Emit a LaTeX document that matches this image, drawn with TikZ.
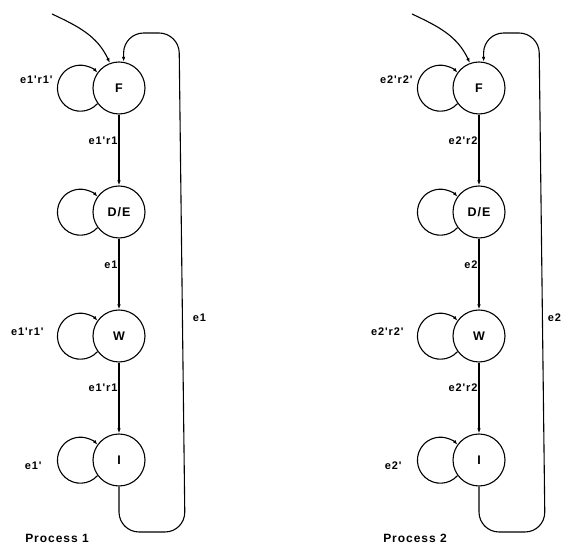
\documentclass[tikz,border=0pt]{standalone}
\usepackage{fontspec}
\newfontfamily\diagfont[LetterSpace=8]{Liberation Sans}
\usetikzlibrary{automata,positioning,arrows.meta}
\tikzset{
node distance=124pt, % centre to centre, states of one process
every state/.style={draw, line width=1.1pt, minimum size=52pt, inner sep=0pt,
  font=\diagfont\bfseries\fontsize{12.5}{12.5}\selectfont},
lbl/.style={font=\diagfont\bfseries\fontsize{11}{11}\selectfont, inner sep=1pt},
title/.style={font=\diagfont\bfseries\fontsize{12}{12}\selectfont, inner sep=0pt},
}

\begin{document}
\begin{tikzpicture}[on grid,auto,line width=1.1pt,>={Latex[length=5pt,width=3.5pt]}]
   \useasboundingbox (0,0) rectangle (563pt,546pt);
   % process 1
   \node[state] (f_1) at (119pt,458pt) {F};
   \node[state] (de_1) [below=of f_1] {D/E};
   \node[state] (w_1) [below=of de_1] {W};
   \node[state] (i_1) [below=of w_1] {I};
   \coordinate (start_1) at (52pt,532pt);
   \draw[->] (start_1) to[out=-25, in=115] (f_1.110);
   \path[->]
    (f_1) edge node[lbl, swap, pos=.37] {e1'r1} (de_1)
    (de_1) edge node[lbl, swap, pos=.37] {e1} (w_1)
    (w_1) edge node[lbl, swap, pos=.35] {e1'r1} (i_1);
   \draw[->] (f_1.216) arc[start angle=-42, end angle=-318, radius=23pt];
   \draw[->] (de_1.216) arc[start angle=-42, end angle=-318, radius=23pt];
   \draw[->] (w_1.216) arc[start angle=-42, end angle=-318, radius=23pt];
   \draw[->] (i_1.216) arc[start angle=-42, end angle=-318, radius=23pt];
   \node[lbl, anchor=east] (lf_1) at ([shift={(-65pt,8pt)}]f_1.center) {e1'r1'};
   \node[lbl, anchor=east] (lw_1) at ([shift={(-74pt,4pt)}]w_1.center) {e1'r1'};
   \node[lbl, anchor=east] (li_1) at ([shift={(-76pt,-6pt)}]i_1.center) {e1'};
   \draw[->, rounded corners=20pt] (i_1.south) -- (119pt,14pt) -- (185pt,14pt)
    -- node[lbl, swap, pos=.43, inner sep=10pt] {e1} (179pt,513pt)
    -- (f_1.80 |- 0,513pt) -- (f_1.80);
   \node[title, anchor=base] (p_1) at (57pt,3pt) {Process 1};

   % process 2
   \node[state] (f_2) at (479pt,458pt) {F};
   \node[state] (de_2) [below=of f_2] {D/E};
   \node[state] (w_2) [below=of de_2] {W};
   \node[state] (i_2) [below=of w_2] {I};
   \coordinate (start_2) at (412pt,532pt);
   \draw[->] (start_2) to[out=-25, in=115] (f_2.110);
   \path[->]
    (f_2) edge node[lbl, swap, pos=.37] {e2'r2} (de_2)
    (de_2) edge node[lbl, swap, pos=.37] {e2} (w_2)
    (w_2) edge node[lbl, swap, pos=.35] {e2'r2} (i_2);
   \draw[->] (f_2.216) arc[start angle=-42, end angle=-318, radius=23pt];
   \draw[->] (de_2.216) arc[start angle=-42, end angle=-318, radius=23pt];
   \draw[->] (w_2.216) arc[start angle=-42, end angle=-318, radius=23pt];
   \draw[->] (i_2.216) arc[start angle=-42, end angle=-318, radius=23pt];
   \node[lbl, anchor=east] (lf_2) at ([shift={(-65pt,8pt)}]f_2.center) {e2'r2'};
   \node[lbl, anchor=east] (lw_2) at ([shift={(-74pt,4pt)}]w_2.center) {e2'r2'};
   \node[lbl, anchor=east] (li_2) at ([shift={(-76pt,-6pt)}]i_2.center) {e2'};
   \draw[->, rounded corners=20pt] (i_2.south) -- (479pt,14pt) -- (545pt,14pt)
    -- node[lbl, swap, pos=.43, inner sep=5pt] {e2} (539pt,513pt)
    -- (f_2.80 |- 0,513pt) -- (f_2.80);
   \node[title, anchor=base] (p_2) at (415pt,3pt) {Process 2};
\end{tikzpicture}
\end{document}
